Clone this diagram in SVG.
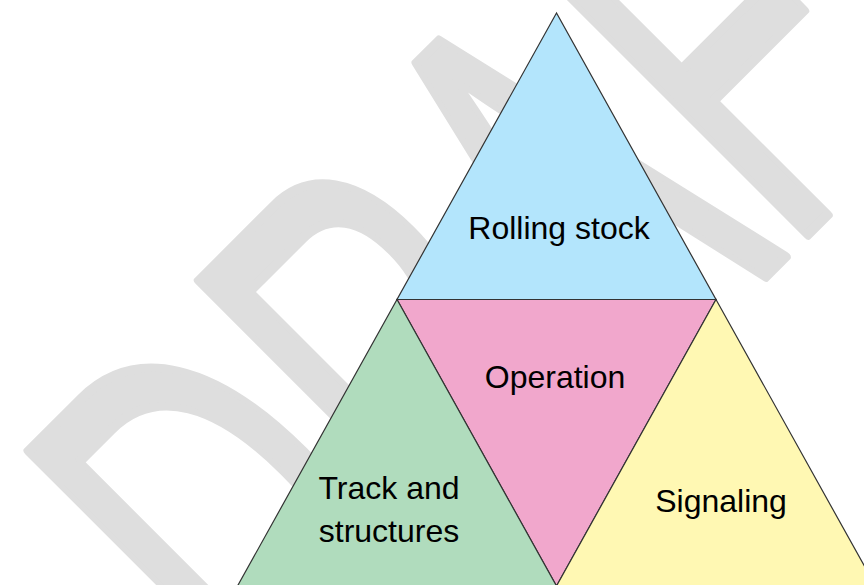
<svg xmlns="http://www.w3.org/2000/svg" width="864" height="585" viewBox="0 0 864 585">
  <style>
    .tri { stroke: #333333; stroke-width: 1.2; stroke-linejoin: miter; }
    .lbl { font-family: "Liberation Sans", Arial, sans-serif; font-size: 32px; fill: #000000; text-anchor: middle; }
    .wm { font-family: "Liberation Sans", Arial, sans-serif; font-size: 578px; fill: #dedede; stroke: #dedede; stroke-width: 10; stroke-linejoin: round; }
  </style>
  <rect x="0" y="0" width="864" height="585" fill="#ffffff"/>
  <g id="watermark">
    <text class="wm" x="-568" y="737" transform="rotate(-45) scale(0.577,1)">DRAFT</text>
  </g>
  <g id="connectors"></g>
  <g id="rolling-stock">
    <polygon class="tri" points="556.5,13 397,299.5 716,299.5" fill="#b3e5fc"/>
    <text class="lbl" x="559" y="239">Rolling stock</text>
  </g>
  <g id="operation">
    <polygon class="tri" points="397,299.5 716,299.5 556.5,586" fill="#f1a7cc"/>
    <text class="lbl" x="555" y="388">Operation</text>
  </g>
  <g id="track-and-structures">
    <polygon class="tri" points="397,299.5 556.5,586 237.5,586" fill="#b0dcbd"/>
    <text class="lbl" x="389" y="499">Track and</text>
    <text class="lbl" x="389" y="542">structures</text>
  </g>
  <g id="signaling">
    <polygon class="tri" points="716,299.5 875.5,586 556.5,586" fill="#fff8b3"/>
    <text class="lbl" x="721" y="512">Signaling</text>
  </g>
</svg>
